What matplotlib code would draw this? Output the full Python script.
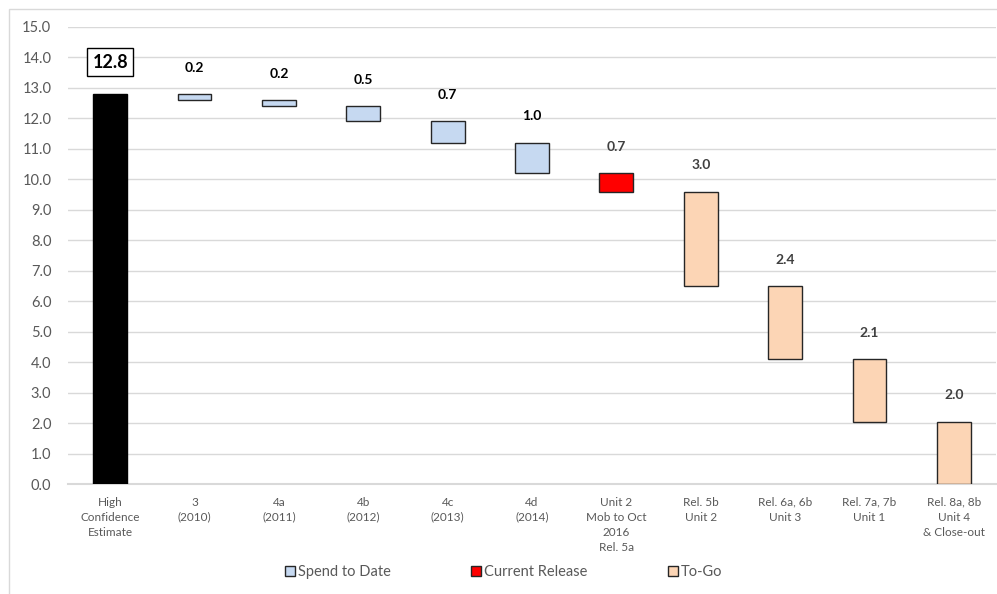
import matplotlib.pyplot as plt
from matplotlib.patches import Patch, Rectangle

plt.rcParams['font.family'] = ['Lato', 'DejaVu Sans']

categories = ['High\nConfidence\nEstimate', '3\n(2010)', '4a\n(2011)', '4b\n(2012)', '4c\n(2013)',
              '4d\n(2014)', 'Unit 2\nMob to Oct\n2016\nRel. 5a', 'Rel. 5b\nUnit 2',
              'Rel. 6a, 6b\nUnit 3', 'Rel. 7a, 7b\nUnit 1', 'Rel. 8a, 8b\nUnit 4\n& Close-out']
tops = [12.8, 12.8, 12.6, 12.4, 11.9, 11.2, 10.2, 9.6, 6.5, 4.1, 2.05]
bottoms = [0, 12.6, 12.4, 11.9, 11.2, 10.2, 9.6, 6.5, 4.1, 2.05, 0]
value_labels = ['12.8', '0.2', '0.2', '0.5', '0.7', '1.0', '0.7', '3.0', '2.4', '2.1', '2.0']
kinds = ['total', 'spend', 'spend', 'spend', 'spend', 'spend', 'current',
         'togo', 'togo', 'togo', 'togo']

colors = {'total': '#000000', 'spend': '#C6D9F1', 'current': '#FF0000', 'togo': '#FCD5B5'}
label_colors = {'total': '#000000', 'spend': '#000000', 'current': '#404040', 'togo': '#404040'}

fig = plt.figure(figsize=(9.97, 5.94), dpi=100)
ax = fig.add_axes([68 / 997, 1 - 484 / 594, 928 / 997, 457 / 594])

# outer chart border
fig.patches.append(Rectangle((9 / 997, -0.05), 1.0, 1.05 - 9 / 594, transform=fig.transFigure,
                             fill=False, edgecolor='#D9D9D9', lw=1))

x = list(range(len(categories)))
for i in x:
    h = tops[i] - bottoms[i]
    ec = '#000000' if kinds[i] == 'total' else '#262626'
    ax.bar(i, h, bottom=bottoms[i], width=0.4, color=colors[kinds[i]], edgecolor=ec,
           linewidth=1.0, zorder=3)
    if kinds[i] == 'total':
        ax.annotate(value_labels[i], (i, tops[i]), xytext=(0, 23), textcoords='offset points',
                    ha='center', va='center', fontsize=13, fontweight='bold', color='#000000',
                    bbox=dict(boxstyle='square,pad=0.3', fc='white', ec='#000000', lw=1))
    else:
        ax.annotate(value_labels[i], (i, tops[i]), xytext=(0, 19), textcoords='offset points',
                    ha='center', va='center', fontsize=10, fontweight='bold',
                    color=label_colors[kinds[i]])

ax.set_xlim(-0.5, len(categories) - 0.5)
ax.set_ylim(0, 15)
ax.set_yticks([i * 1.0 for i in range(16)])
ax.set_yticklabels([f'{i:.1f}' for i in range(16)], fontsize=10.5, color='#595959')
ax.set_xticks(x)
ax.set_xticklabels(categories, fontsize=8.5, color='#595959', linespacing=1.45)
ax.tick_params(axis='both', length=0)
ax.tick_params(axis='x', pad=9)
ax.tick_params(axis='y', pad=12)
ax.grid(axis='y', color='#D9D9D9', lw=1, zorder=0)
for s in ['top', 'right', 'left']:
    ax.spines[s].set_visible(False)
ax.spines['bottom'].set_color('#D9D9D9')
ax.spines['bottom'].set_linewidth(1.5)

handles = [Patch(facecolor=colors['spend'], edgecolor='#262626', label='Spend to Date'),
           Patch(facecolor=colors['current'], edgecolor='#262626', label='Current Release'),
           Patch(facecolor=colors['togo'], edgecolor='#262626', label='To-Go')]
fig.legend(handles=handles, loc='center', bbox_to_anchor=(0.505, 1 - 572 / 594), ncol=3,
           frameon=False, fontsize=10.5, labelcolor='#595959', handlelength=0.7,
           handleheight=0.7, handletextpad=0.2, columnspacing=5.5)

fig.savefig('out.png', dpi=100)
